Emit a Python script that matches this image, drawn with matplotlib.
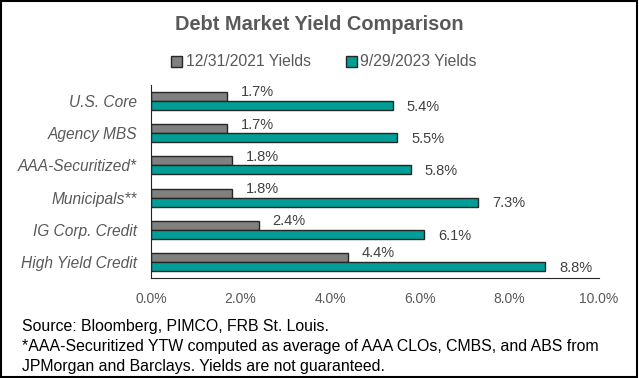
import matplotlib
matplotlib.use("Agg")
import matplotlib.pyplot as plt
from matplotlib.patches import Rectangle
import numpy as np

plt.rcParams['font.family'] = ['Liberation Sans', 'DejaVu Sans']

## data
categories = ['U.S. Core', 'Agency MBS', 'AAA-Securitized*', 'Municipals**',
              'IG Corp. Credit', 'High Yield Credit']
yields_2021 = [1.7, 1.7, 1.8, 1.8, 2.4, 4.4]
yields_2023 = [5.4, 5.5, 5.8, 7.3, 6.1, 8.8]
series_names = ['12/31/2021 Yields', '9/29/2023 Yields']
xticks = [0, 2, 4, 6, 8, 10]
notes = ['Source: Bloomberg, PIMCO, FRB St. Louis.',
         '*AAA-Securitized YTW computed as average of AAA CLOs, CMBS, and ABS from',
         'JPMorgan and Barclays. Yields are not guaranteed.']

grey = '#808080'
teal = '#009E97'
txt = '#595959'

fig = plt.figure(figsize=(6.39, 3.78), dpi=100)
ax = fig.add_axes([151/639, 1-278/378, (599-151)/639, (278-85)/378])

y = np.arange(len(categories))
h = 0.28
b1 = ax.barh(y - h/2, yields_2021, height=h, color=grey, edgecolor='#262626', linewidth=1.0, label=series_names[0])
b2 = ax.barh(y + h/2, yields_2023, height=h, color=teal, edgecolor='#262626', linewidth=1.0, label=series_names[1])

## data labels
for yi, v in zip(y, yields_2021):
    ax.annotate('%.1f%%' % v, xy=(v, yi - h/2), xytext=(10, 3), textcoords='offset points',
                va='center', ha='left', fontsize=10.5, color='#404040')
for yi, v in zip(y, yields_2023):
    ax.annotate('%.1f%%' % v, xy=(v, yi + h/2), xytext=(10, -1), textcoords='offset points',
                va='center', ha='left', fontsize=10.5, color='#404040')

ax.set_xlim(0, 10)
ax.set_ylim(len(categories) - 0.5, -0.5)
ax.set_yticks(y)
ax.set_yticklabels(categories, fontsize=11.2, style='italic', color=txt)
ax.set_xticks(xticks)
ax.set_xticklabels(['%.1f%%' % t for t in xticks], fontsize=10, color=txt)
ax.tick_params(axis='both', length=0)
ax.tick_params(axis='y', pad=10)
ax.tick_params(axis='x', pad=10)
for s in ['top', 'right']:
    ax.spines[s].set_visible(False)
ax.spines['left'].set_color('#262626')
ax.spines['bottom'].set_color('#262626')

fig.text(0.5, 1-24/378, 'Debt Market Yield Comparison', ha='center', va='center',
         fontsize=14.4, fontweight='bold', color=txt)
fig.legend(handles=[b1, b2], loc='center', bbox_to_anchor=(324/639, 1-62/378), ncol=2,
           frameon=False, fontsize=11.3, labelcolor=txt, handlelength=0.7, handleheight=0.7,
           handletextpad=0.25, columnspacing=2.2)

for i, line in enumerate(notes):
    fig.text(22/639, 1-(327+19.5*i)/378, line, fontsize=11.4, va='center')

## border round the whole chart
fig.patches.append(Rectangle((0.002, 0.003), 0.995, 0.994, transform=fig.transFigure,
                             fill=False, edgecolor='black', linewidth=1.5))

fig.savefig('out.png', dpi=100)
